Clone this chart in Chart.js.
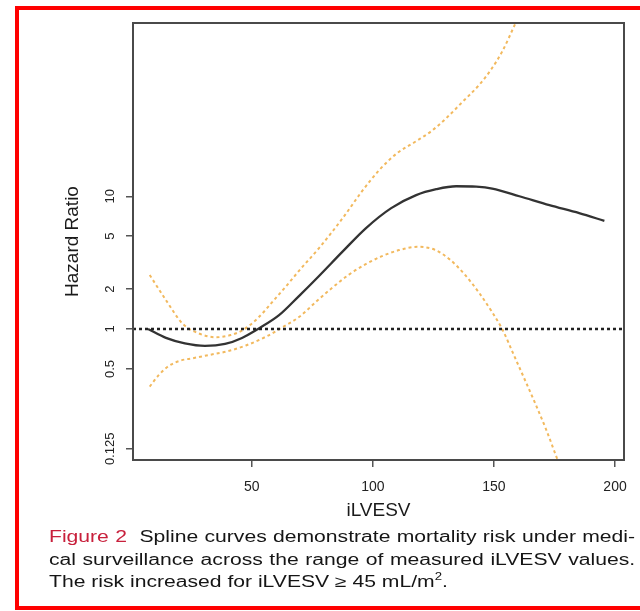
<!DOCTYPE html>
<html>
<head>
<meta charset="utf-8">
<script src="https://cdn.jsdelivr.net/npm/chart.js@4"></script>
<style>
  html, body { margin: 0; padding: 0; background: #fff; overflow: hidden; }
  body { width: 640px; height: 611px; position: relative; font-family: 'Liberation Sans', Arial, sans-serif; }
  #frame { position: absolute; left: 15px; top: 6px; width: 700px; height: 604px; box-sizing: border-box; border: 4px solid #ff0000; }
  #hr { position: absolute; left: 0; top: 0; }
  #caption { position: absolute; left: 49px; top: 526px; width: 444px; font-size: 16px; line-height: 22.5px; color: #151515;
             transform: scaleX(1.32); transform-origin: 0 0; white-space: nowrap; }
  #caption .j { text-align: justify; text-align-last: justify; }
  #caption .fig { color: #c8203c; }
  #caption .sq { font-size: 10px; vertical-align: 7px; line-height: 0; }
</style>
</head>
<body>
<div id="frame"></div>
<canvas id="hr" width="640" height="611"></canvas>
<div id="caption">
  <div class="j"><span class="fig">Figure 2</span>&nbsp; Spline curves demonstrate mortality risk under medi-</div>
  <div class="j">cal surveillance across the range of measured iLVESV values.</div>
  <div>The risk increased for iLVESV ≥ 45 mL/m<span class="sq">2</span>.</div>
</div>
<script>
// axis limits and ticks
const X_MIN = 1, X_MAX = 203.7;
const Y_MIN = 0.103, Y_MAX = 202;
const X_TICKS = [50, 100, 150, 200];
const Y_TICKS = [0.125, 0.5, 1, 2, 5, 10];

// spline estimate of hazard ratio
const HR_X = [7.2, 14.6, 22.4, 30.7, 39, 46, 52.6, 61.3, 69.5, 77.8, 87.7, 97.2, 107.6,
              117.9, 126.2, 134.4, 142.7, 149.3, 160.5, 172.9, 185.2, 195.6];
const HR_Y = [1.0, 0.856, 0.778, 0.745, 0.771, 0.856, 1.0, 1.27, 1.77, 2.51, 3.86, 5.76, 8.14,
              10.2, 11.3, 11.9, 11.8, 11.4, 10.0, 8.57, 7.46, 6.53];

// upper confidence band
const UP_X = [7.9, 14.6, 21.6, 28.2, 35.2, 41.4, 46.4, 52.6, 58.8, 64.6, 69.8, 77.8, 88.1,
              95.2, 102.6, 110, 117.9, 124.1, 130.3, 136.9, 143.9, 148.9, 153.4, 159.2, 161.3];
const UP_Y = [2.55, 1.65, 1.09, 0.925, 0.866, 0.901, 0.983, 1.21, 1.62, 2.14, 2.78, 4.07, 7.05,
              10.7, 15.7, 21.1, 26.0, 30.9, 38.7, 51.1, 69, 90.5, 123, 207, 252];

// lower confidence band
const LO_X = [7.9, 11.7, 15.8, 20.8, 25.7, 32.4, 39.4, 47.6, 55.9, 62.9, 69.8, 77, 83.6, 90.2,
              97.1, 104.3, 110.9, 118.3, 125.4, 131.6, 137.8, 144, 148.9, 153.6, 158.4, 163.4,
              167.5, 171.6, 176.3, 178.2];
const LO_Y = [0.368, 0.451, 0.527, 0.579, 0.602, 0.637, 0.675, 0.751, 0.875, 1.035, 1.24, 1.63,
              2.07, 2.57, 3.08, 3.57, 3.93, 4.16, 3.97, 3.36, 2.59, 1.86, 1.37, 0.983, 0.626,
              0.39, 0.263, 0.174, 0.103, 0.084];

const REF_HR = 1;

const FONT = 'Liberation Sans, Arial, sans-serif';
const pts = (xs, ys) => xs.map((x, i) => ({ x: x, y: ys[i] }));

// ── box around the plot + rotated y tick labels ──
const boxPlugin = {
  id: 'rBox',
  afterDraw(chart) {
    const { ctx, chartArea: a } = chart;
    const ys = chart.scales.y;
    ctx.save();
    ctx.strokeStyle = '#4a4a4a';
    ctx.lineWidth = 2;
    ctx.strokeRect(a.left, a.top, a.right - a.left, a.bottom - a.top);

    ctx.fillStyle = '#222';
    ctx.font = '13px ' + FONT;
    ctx.textAlign = 'center';
    ctx.textBaseline = 'alphabetic';
    ys.ticks.forEach(t => {
      const py = ys.getPixelForValue(t.value);
      ctx.save();
      ctx.translate(a.left - 19, py);
      ctx.rotate(-Math.PI / 2);
      ctx.fillText(String(t.value), 0, 0);
      ctx.restore();
    });
    ctx.restore();
  }
};

new Chart(document.getElementById('hr').getContext('2d'), {
  type: 'line',
  data: {
    datasets: [
      {
        data: pts([X_MIN, X_MAX], [REF_HR, REF_HR]),
        borderColor: '#222', borderWidth: 2.5, borderDash: [3, 3],
        pointRadius: 0, fill: false,
      },
      {
        data: pts(UP_X, UP_Y),
        borderColor: '#f2b95e', borderWidth: 2, borderDash: [3, 3],
        pointRadius: 0, cubicInterpolationMode: 'monotone', fill: false,
      },
      {
        data: pts(LO_X, LO_Y),
        borderColor: '#f2b95e', borderWidth: 2, borderDash: [3, 3],
        pointRadius: 0, cubicInterpolationMode: 'monotone', fill: false,
      },
      {
        data: pts(HR_X, HR_Y),
        borderColor: '#333', borderWidth: 2.3,
        pointRadius: 0, cubicInterpolationMode: 'monotone', fill: false,
      },
    ]
  },
  options: {
    responsive: false,
    animation: false,
    devicePixelRatio: 1,
    layout: { padding: { left: 61, top: 23, right: 16, bottom: 89 } },
    plugins: { legend: { display: false }, tooltip: { enabled: false } },
    scales: {
      x: {
        type: 'linear', min: X_MIN, max: X_MAX,
        afterBuildTicks: s => { s.ticks = X_TICKS.map(v => ({ value: v })); },
        afterFit: s => { s.height = 62; },
        grid: { drawOnChartArea: false, drawTicks: true, tickLength: 7, color: '#555', lineWidth: 1.5 },
        border: { display: false },
        ticks: { font: { size: 14, family: FONT }, color: '#222', padding: 12, maxRotation: 0 },
        title: { display: true, text: 'iLVESV', font: { size: 19, family: FONT }, color: '#1a1a1a', padding: 0 },
      },
      y: {
        type: 'logarithmic', min: Y_MIN, max: Y_MAX,
        afterBuildTicks: s => { s.ticks = Y_TICKS.map(v => ({ value: v })); },
        afterFit: s => { s.width = 72; },
        grid: { drawOnChartArea: false, drawTicks: true, tickLength: 7, color: '#555', lineWidth: 1.5 },
        border: { display: false },
        ticks: { display: false },
        title: { display: true, text: 'Hazard Ratio', font: { size: 19, family: FONT }, color: '#1a1a1a', padding: 0 },
      }
    }
  },
  plugins: [boxPlugin]
});
</script>
</body>
</html>
